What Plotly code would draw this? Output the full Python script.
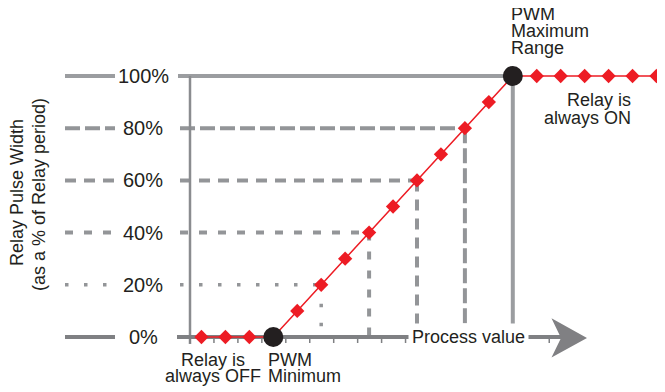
import plotly.graph_objects as go

# ---------------- data ----------------
process_value = list(range(1, 21))
relay_pulse_pct = [0, 0, 0, 0, 10, 20, 30, 40, 50, 60, 70, 80, 90, 100,
                   100, 100, 100, 100, 100, 100]
level_pct = [0, 20, 40, 60, 80, 100]
level_labels = ["0%", "20%", "40%", "60%", "80%", "100%"]
level_dash = ["solid", "3.5px,15.5px", "8px,11px", "11px,8px", "15px,5px", "solid"]

# ---------------- geometry helpers (screen pixel -> data) ----------------
WIN_W, WIN_H = 665, 392
BODY = 8  # default page margin around the figure
W, H = WIN_W - BODY, WIN_H - BODY
X0_PX, X_UNIT = 177.5, 23.95
Y0_PX, Y_UNIT = 337.0, 2.61


def px_x(p):
    return (p - X0_PX) / X_UNIT


def px_y(p):
    return (Y0_PX - p) / Y_UNIT


RED = "#ed1c24"
DARK = "#231f20"
GUIDE = "#939598"
AXIS = "#7f8083"
FONT = "Liberation Sans, Arial, sans-serif"

pwm_min_idx = max(i for i, v in enumerate(relay_pulse_pct) if v == 0)
pwm_max_idx = min(i for i, v in enumerate(relay_pulse_pct) if v == 100)
circle_idx = [pwm_min_idx, pwm_max_idx]
diamond_idx = [i for i in range(len(process_value)) if i not in circle_idx]

fig = go.Figure()

# red line
fig.add_trace(go.Scatter(x=process_value, y=relay_pulse_pct, mode="lines",
                         line=dict(color=RED, width=1.5), hoverinfo="skip"))
# diamonds
fig.add_trace(go.Scatter(x=[process_value[i] for i in diamond_idx],
                         y=[relay_pulse_pct[i] for i in diamond_idx],
                         mode="markers",
                         marker=dict(symbol="diamond", size=11, color=RED,
                                     line=dict(width=0))))
# PWM min / max circles
fig.add_trace(go.Scatter(x=[process_value[i] for i in circle_idx],
                         y=[relay_pulse_pct[i] for i in circle_idx],
                         mode="markers",
                         marker=dict(symbol="circle", size=20, color=DARK,
                                     line=dict(width=0))))

shapes = []
annotations = []

# guide lines for each level
for lvl, lab, dash in zip(level_pct, level_labels, level_dash):
    idx = relay_pulse_pct.index(lvl) if lvl > 0 else None
    col = AXIS if lvl == 0 else ("#9b9da0" if lvl == 100 else GUIDE)
    lw = 3.5 if dash.startswith("3.5") else 4
    # left segment (before the label)
    shapes.append(dict(type="line", layer="below", x0=px_x(65), x1=px_x(115),
                       y0=lvl, y1=lvl, line=dict(color=col, width=lw, dash=dash)))
    # label
    annotations.append(dict(x=px_x(143), y=lvl, xref="x", yref="y", text=lab,
                            showarrow=False, xanchor="center", yanchor="middle",
                            font=dict(family=FONT, size=20, color=DARK)))
    if lvl == 0:
        continue
    start = px_x(178) if dash == "solid" else px_x(180)
    xe = process_value[idx]
    # horizontal line to the curve
    shapes.append(dict(type="line", layer="below", x0=start, x1=xe,
                       y0=lvl, y1=lvl, line=dict(color=col, width=lw, dash=dash)))
    # vertical line down to the process axis
    shapes.append(dict(type="line", layer="below", x0=xe, x1=xe,
                       y0=lvl, y1=0, line=dict(color=col, width=lw, dash=dash)))

# y axis line
shapes.append(dict(type="line", layer="below", x0=px_x(190), x1=px_x(190),
                   y0=100, y1=px_y(344), line=dict(color="#8a8c8f", width=2.5)))
# x (process value) axis
shapes.append(dict(type="line", layer="below", x0=px_x(177), x1=px_x(565),
                   y0=0, y1=0, line=dict(color=AXIS, width=4)))
# ticks on the process axis
k = 0
while px_x(190) + k <= px_x(575):
    tx = px_x(190) + k
    shapes.append(dict(type="line", layer="below", x0=tx, x1=tx, y0=0,
                       y1=px_y(343), line=dict(color=AXIS, width=1.5)))
    k += 1
# arrow head
pts = [(551.5, 318.3), (587, 338), (551.5, 357.5), (561, 338)]
path = "M " + " L ".join(f"{px_x(a):.4f},{px_y(b):.4f}" for a, b in pts) + " Z"
shapes.append(dict(type="path", layer="above", path=path,
                   fillcolor="#808083", line=dict(width=0)))

# text annotations


def txt(s, xp, yp, anchor="center", size=18, bg=None, pad=1):
    d = dict(x=px_x(xp), y=px_y(yp), xref="x", yref="y", text=s, showarrow=False,
             xanchor=anchor, yanchor="middle",
             font=dict(family=FONT, size=size, color=DARK), borderpad=pad)
    if bg:
        d["bgcolor"] = bg
    annotations.append(d)


txt("Process value", 468, 337, bg="white", pad=3)
txt("Relay is", 213, 360)
txt("always OFF", 213, 376)
txt("PWM", 266, 360, anchor="left")
txt("Minimum", 266, 376, anchor="left")
txt("PWM", 509, 14, anchor="left")
txt("Maximum", 509, 31, anchor="left")
txt("Range", 509, 48, anchor="left")
txt("Relay is", 633, 100, anchor="right")
txt("always ON", 633, 117.5, anchor="right")

# y-axis title (two rotated lines)
for s, xp, yp in [("Relay Pulse Width", 17, 193), ("(as a % of Relay period)", 39, 195)]:
    annotations.append(dict(x=px_x(xp), y=px_y(yp), xref="x", yref="y", text=s,
                            showarrow=False, textangle=-90, xanchor="center",
                            yanchor="middle",
                            font=dict(family=FONT, size=18, color=DARK)))

fig.update_layout(
    width=W, height=H,
    margin=dict(l=0, r=0, t=0, b=0),
    paper_bgcolor="white", plot_bgcolor="white",
    showlegend=False,
    xaxis=dict(range=[px_x(BODY), px_x(WIN_W)], visible=False, fixedrange=True),
    yaxis=dict(range=[px_y(WIN_H), px_y(BODY)], visible=False, fixedrange=True),
    shapes=shapes, annotations=annotations,
)

fig.write_html("out.html")
